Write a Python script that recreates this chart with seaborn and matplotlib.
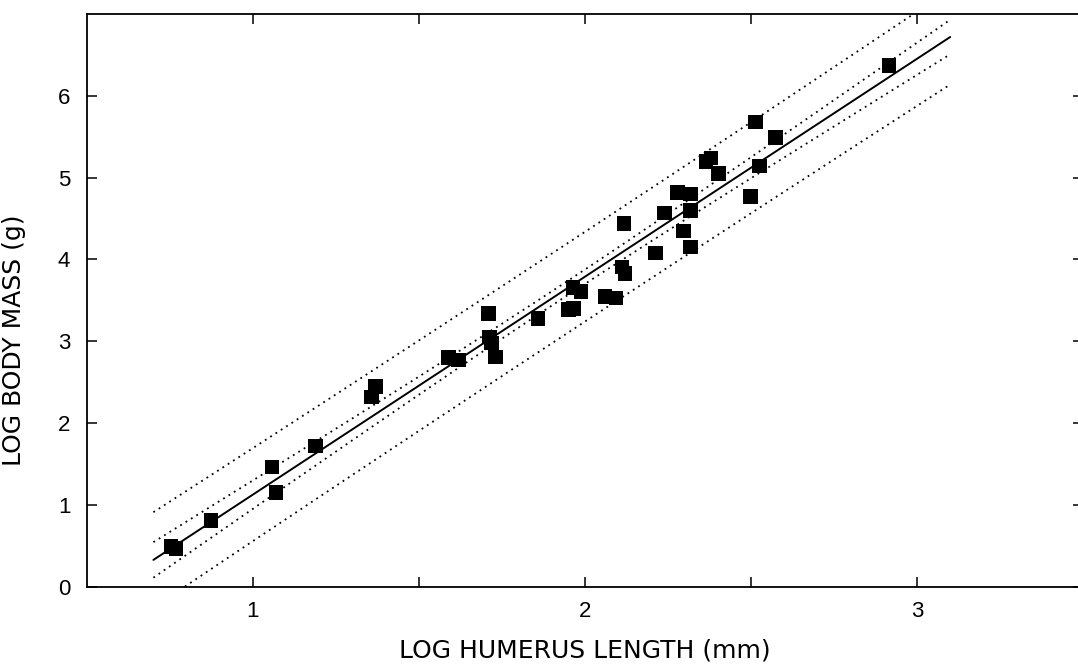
import numpy as np
import pandas as pd
import matplotlib
matplotlib.use("Agg")
import matplotlib.pyplot as plt
import seaborn as sns

# ---- data ----
log_humerus = [0.753, 0.768, 0.873, 1.057, 1.069, 1.189, 1.357, 1.369, 1.589, 1.619,
               1.709, 1.712, 1.718, 1.730, 1.859, 1.950, 1.965, 1.964, 1.988, 2.060,
               2.093, 2.117, 2.112, 2.121, 2.213, 2.240, 2.279, 2.297, 2.318, 2.318,
               2.318, 2.365, 2.380, 2.402, 2.499, 2.514, 2.526, 2.574, 2.916]
log_mass = [0.49, 0.47, 0.81, 1.465, 1.15, 1.72, 2.32, 2.45, 2.80, 2.77,
            3.34, 3.05, 2.98, 2.81, 3.28, 3.39, 3.40, 3.66, 3.61, 3.55,
            3.53, 4.44, 3.91, 3.83, 4.08, 4.57, 4.82, 4.35, 4.15, 4.60,
            4.80, 5.20, 5.24, 5.05, 4.77, 5.68, 5.14, 5.49, 6.37]
fit_range = [0.7, 3.1]
x_ticks = [1, 2, 3]
x_minor = [1.5, 2.5]
y_ticks = [0, 1, 2, 3, 4, 5, 6]
t_value = 2.026

df = pd.DataFrame({"x": log_humerus, "y": log_mass})

# ---- regression with confidence and prediction bands ----
x = np.asarray(log_humerus)
y = np.asarray(log_mass)
n = len(x)
slope, intercept = np.polyfit(x, y, 1)
resid = y - (intercept + slope * x)
s = np.sqrt(np.sum(resid ** 2) / (n - 2))
xm = x.mean()
sxx = np.sum((x - xm) ** 2)
xs = np.linspace(fit_range[0], fit_range[1], 200)
yhat = intercept + slope * xs
ci = t_value * s * np.sqrt(1 / n + (xs - xm) ** 2 / sxx)
pi = t_value * s * np.sqrt(1 + 1 / n + (xs - xm) ** 2 / sxx)
bands = pd.DataFrame({"x": xs, "fit": yhat, "ci_lo": yhat - ci, "ci_hi": yhat + ci,
                      "pi_lo": yhat - pi, "pi_hi": yhat + pi})

sns.set_style("ticks")
plt.rcParams["font.family"] = ["Liberation Sans", "DejaVu Sans"]
plt.rcParams["text.color"] = "black"
plt.rcParams["axes.labelcolor"] = "black"
plt.rcParams["xtick.color"] = "black"
plt.rcParams["ytick.color"] = "black"

W, H = 1078, 666
fig = plt.figure(figsize=(W / 100, H / 100), dpi=100)
left_px, right_px = 87, 1083
bottom_px, top_px = 586.7, 14.0
ax = fig.add_axes([left_px / W, (H - bottom_px) / H,
                   (right_px - left_px) / W, (bottom_px - top_px) / H])

dot = (0, (1, 2.5))
sns.lineplot(data=bands, x="x", y="fit", ax=ax, color="black", lw=1.4, zorder=3)
for col in ["ci_lo", "ci_hi", "pi_lo", "pi_hi"]:
    sns.lineplot(data=bands, x="x", y=col, ax=ax, color="black", lw=1.3,
                 linestyle=dot, zorder=3)
sns.scatterplot(data=df, x="x", y="y", ax=ax, marker="s", s=110, color="black",
                edgecolor="none", linewidth=0, zorder=4)

ax.set_xlim(0.5, 3.5)
ax.set_ylim(0, 7)
ax.set_xticks(x_ticks)
ax.set_xticklabels([str(v) for v in x_ticks])
ax.set_xticks(x_minor, minor=True)
ax.set_yticks(y_ticks)
ax.set_yticklabels([str(v) for v in y_ticks])
ax.tick_params(axis="both", which="both", direction="in", top=True, right=True,
               length=7, width=1.1, colors="black", labelsize=16, pad=10)
ax.tick_params(axis="y", pad=12)
for sp in ax.spines.values():
    sp.set_linewidth(1.3)
    sp.set_color("black")

ax.set_xlabel("LOG HUMERUS LENGTH (mm)", fontsize=18, family=["DejaVu Sans"],
              color="black")
ax.set_ylabel("LOG BODY MASS (g)", fontsize=18, family=["DejaVu Sans"],
              color="black")
ax.xaxis.set_label_coords(0.5, -0.091)
ax.yaxis.set_label_coords(-0.061, 0.43)

fig.savefig("out.png", dpi=100)
